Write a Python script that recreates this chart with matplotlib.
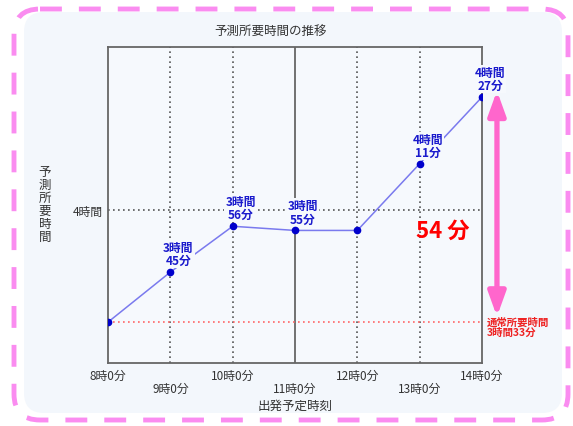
import numpy as np
import matplotlib
matplotlib.use("Agg")
import matplotlib.pyplot as plt
from matplotlib.patches import FancyBboxPatch

plt.rcParams['font.family'] = ['Noto Sans CJK JP', 'DejaVu Sans']

# data
hours = [8, 9, 10, 11, 12, 13, 14]
tick_labels = ['8時0分', '9時0分', '10時0分', '11時0分', '12時0分', '13時0分', '14時0分']
pred_minutes = [213, 225, 236, 235, 235, 251, 267]
show_label = [False, True, True, True, False, True, True]
usual_minutes = 213
usual_text = '通常所要時間\n3時間33分'
ytick_vals = [240]
ytick_labels = ['4時間']

W, H = 573, 427
fig = plt.figure(figsize=(W / 100, H / 100), dpi=100)

# background decoration in pixel coords
bg = fig.add_axes([0, 0, 1, 1], zorder=0)
bg.set_xlim(0, W)
bg.set_ylim(H, 0)
bg.axis('off')
bg.add_patch(FancyBboxPatch((24, 13), 538, 401,
                            boxstyle='round,pad=0,rounding_size=20',
                            facecolor='#f3f7fc', edgecolor='none'))
bg.add_patch(FancyBboxPatch((14, 10), 554, 411,
                            boxstyle='round,pad=0,rounding_size=26',
                            facecolor='none', edgecolor='#fa8cf0',
                            lw=3.5, linestyle=(0, (4.5, 3.5))))

ax = fig.add_axes([108 / W, 1 - 364 / H, 374 / W, 316 / H], zorder=1)
ax.set_facecolor('#f6f9fd')
ax.set_xlim(8, 14)
ax.set_ylim(203.2, 279)

# grid
for h in hours[1:-1]:
    if h == 11:
        ax.axvline(h, color='#666666', lw=1.3, zorder=1)
    else:
        ax.axvline(h, color='#555555', lw=1.2, linestyle=(0, (1, 2)), zorder=1)
for v in ytick_vals:
    ax.axhline(v, color='#555555', lw=1.2, linestyle=(0, (1, 2)), zorder=1)
ax.axhline(usual_minutes, color='#ff6666', lw=1.2, linestyle=(0, (1, 2)), zorder=1)

ax.plot(hours, pred_minutes, color='#7a7aee', lw=1.1, zorder=2)
ax.plot(hours, pred_minutes, 'o', color='#0000cc', ms=4.5, zorder=4)

for h, m, s in zip(hours, pred_minutes, show_label):
    if not s:
        continue
    hh, mm = divmod(m, 60)
    ax.annotate(f'{hh}時間\n{mm}分', (h, m), xytext=(8, 18),
                textcoords='offset pixels', ha='center', va='center',
                color='#1a1acc', fontsize=8.5, fontweight='bold',
                linespacing=1.0, zorder=3, annotation_clip=False,
                bbox=dict(boxstyle='square,pad=0.1', fc='#f6f9fd', ec='none'))

# axes styling
for sp in ax.spines.values():
    sp.set_color('#666666')
    sp.set_linewidth(1.3)
ax.set_xticks(hours)
ax.set_xticklabels([t if i % 2 == 0 else '\n' + t for i, t in enumerate(tick_labels)],
                   fontsize=8.5, color='#333333', linespacing=1.05)
ax.set_yticks(ytick_vals)
ax.set_yticklabels(ytick_labels, fontsize=8.5, color='#333333')
ax.tick_params(length=0, pad=4)

# usual-time label and difference arrow
ax.annotate(usual_text, (14, usual_minutes), xytext=(5, -5),
            textcoords='offset pixels', ha='left', va='center',
            color='#ee2222', fontsize=7.5, fontweight='bold',
            linespacing=1.0, annotation_clip=False)
diff = pred_minutes[-1] - usual_minutes
ax.annotate('', xy=(1.04, pred_minutes[-1] + 1.5), xytext=(1.04, usual_minutes),
            xycoords=('axes fraction', 'data'),
            textcoords=('axes fraction', 'data'),
            arrowprops=dict(arrowstyle='<|-|>,head_length=0.72,head_width=0.26',
                            mutation_scale=20, color='#ff66cc', lw=3.8,
                            shrinkA=4, shrinkB=0), annotation_clip=False)
ax.text(0.896, usual_minutes + 22, f'{diff} 分', transform=ax.get_yaxis_transform(),
        ha='center', va='center', color='#ff0000', fontsize=16, fontweight='bold')

# titles
fig.text(271 / W, 1 - 32 / H, '予測所要時間の推移', ha='center', va='center',
         fontsize=9, color='#333333')
fig.text(295 / W, 1 - 406 / H, '出発予定時刻', ha='center', va='center',
         fontsize=9, color='#333333')
fig.text(45 / W, 1 - 205 / H, '\n'.join('予測所要時間'), ha='center', va='center',
         fontsize=9, color='#333333', linespacing=1.0)

fig.savefig('out.png', dpi=100)
